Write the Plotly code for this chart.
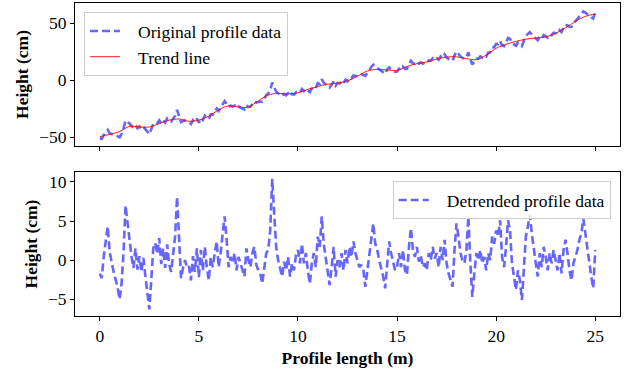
import numpy as np
import plotly.graph_objects as go

# Profile positions (m), 0.1 m step
position_m = [round(i * 0.1, 1) for i in range(251)]

# Detrended profile heights (cm)
detrended_cm = [
    -1.7, -2.3, 0.5, 2.5, 4.3, 1.0, -0.5, -1.5, -2.5, -3.5,
    -5.0, -3.0, 1.0, 7.0, 4.8, 2.5, 0.5, -1.0, 1.5, -1.2,
    0.5, -1.5, 0.3, -2.0, -4.0, -6.3, -2.5, 1.5, 2.2, 0.8,
    2.8, -0.5, 1.5, -1.0, 2.0, -0.5, -1.5, 0.5, 3.0, 8.1,
    3.0, -2.3, -1.0, 0.0, -1.0, -0.8, -2.6, 0.5, -1.5, 1.5,
    -2.2, 1.3, -1.3, 1.7, -0.9, -2.6, 0.4, -0.9, 0.9, 2.4,
    -0.9, 0.9, 3.4, 5.6, 2.6, -0.9, 0.4, -0.4, 0.9, -1.3,
    0.4, -0.4, -1.3, -2.1, 1.5, 0.0, -0.9, 0.9, 1.7, -0.6,
    -1.3, -1.7, -3.0, -0.9, 0.9, 1.3, 3.8, 10.4, 5.1, 1.7,
    0.0, -1.3, -2.1, -0.2, -1.3, 0.4, -2.1, -0.4, -1.3, 0.6,
    1.3, -0.4, 2.1, -0.4, 0.9, -1.3, -3.0, -0.4, 0.9, -0.9,
    3.0, 1.7, 5.6, 2.1, 0.4, -1.3, -3.2, -0.9, 1.7, -2.1,
    0.0, -0.9, 0.9, -1.3, 1.3, -0.4, 1.7, 0.4, 2.4, 0.9,
    0.0, -0.9, -0.6, -1.3, -3.4, -1.3, 0.9, 3.0, 4.7, 2.1,
    1.3, 0.0, -0.9, -2.1, -3.6, 0.0, 2.4, 0.9, -0.4, -1.3,
    -0.9, 0.9, -0.9, 1.3, -1.3, -1.9, 1.7, 4.1, 1.3, 0.4,
    1.7, -0.2, 0.6, -0.9, -0.4, -1.3, 0.9, 0.0, 1.7, 0.2,
    0.9, -0.9, 1.7, 0.0, 2.6, -0.4, -1.7, -2.6, -3.4, 1.3,
    4.7, 3.0, 0.9, 0.0, -0.4, 1.3, 5.6, -0.4, -4.7, -1.7,
    0.9, 0.0, 1.3, -0.4, 0.4, -1.3, 0.9, 0.0, 3.0, 2.1,
    3.8, 3.0, 5.1, 0.4, -0.9, 1.7, 5.1, 3.8, -0.4, -2.1,
    -3.8, -1.3, -2.6, -5.1, -1.3, 3.0, 4.3, 5.8, 3.4, 1.3,
    -0.4, -2.1, 0.9, -0.9, 1.7, 0.4, -1.3, 0.9, -0.4, 1.3,
    0.0, -1.3, 0.9, -1.7, 1.3, 2.6, 0.9, -1.3, -2.6, -0.4,
    0.4, 1.3, 2.6, 3.4, 5.3, 3.4, 1.3, -0.4, -2.1, -3.6,
    1.3,
]

# Trend line (cm), every 0.5 m
trend_x_m = [i * 0.5 for i in range(51)]
trend_cm = [
    -49.5, -47.5, -45.0, -40.5, -41.0, -41.0, -38.0, -35.0, -34.0, -36.0,
    -35.0, -31.5, -26.0, -22.5, -23.5, -23.5, -18.0, -13.0, -11.5, -12.0,
    -11.0, -8.0, -5.5, -3.5, -2.5, -0.5, 3.5, 8.0, 9.5, 9.0,
    8.5, 12.0, 14.5, 16.0, 18.5, 20.3, 20.5, 19.0, 18.0, 22.0,
    28.0, 31.5, 34.0, 36.0, 37.0, 38.0, 41.0, 46.0, 51.5, 56.0,
    58.0,
]

x_ticks = [0, 5, 10, 15, 20, 25]
top_ticks = [-50, 0, 50]
bottom_ticks = [-5, 0, 5, 10]

# Original profile = trend + detrended residual
original_cm = (np.array(detrended_cm) + np.interp(position_m, trend_x_m, trend_cm)).tolist()

BLUE = "rgba(102,102,255,1)"
FONT = "Liberation Serif, Times New Roman, serif"
FS = 17.5
PAD = "\u00a0\u00a0\u00a0"

fig = go.Figure()
fig.add_trace(go.Scatter(x=position_m, y=original_cm, mode="lines", name=PAD + "Original profile data",
                         line=dict(color=BLUE, width=2.6, dash="8px,4px"),
                         xaxis="x", yaxis="y", legend="legend"))
fig.add_trace(go.Scatter(x=trend_x_m, y=trend_cm, mode="lines", name=PAD + "Trend line",
                         line=dict(color="red", width=0.9, shape="spline"),
                         xaxis="x", yaxis="y", legend="legend"))
fig.add_trace(go.Scatter(x=position_m, y=detrended_cm, mode="lines", name=PAD + "Detrended profile data",
                         line=dict(color=BLUE, width=2.6, dash="8px,4px"),
                         xaxis="x2", yaxis="y2", legend="legend2"))

axis_common = dict(showline=True, linecolor="black", linewidth=1, mirror=True,
                   ticks="outside", ticklen=4, tickcolor="black", showgrid=False,
                   zeroline=False, tickfont=dict(family=FONT, size=FS, color="black"))

fig.update_layout(
    width=632, height=372,
    margin=dict(l=75, r=12, t=3, b=56),
    paper_bgcolor="white", plot_bgcolor="white",
    font=dict(family=FONT, size=FS, color="black"),
    xaxis=dict(domain=[0, 1], anchor="y", range=[-1.25, 26.25], tickvals=x_ticks,
               showticklabels=False, matches="x2", **axis_common),
    yaxis=dict(domain=[0.5431, 1], anchor="x", range=[-57.7, 67.7], tickvals=top_ticks,
               title=dict(text="<b>Height (cm)</b>", font=dict(family=FONT, size=FS), standoff=5),
               **axis_common),
    xaxis2=dict(domain=[0, 1], anchor="y2", range=[-1.25, 26.25], tickvals=x_ticks,
                title=dict(text="<b>Profile length (m)</b>", font=dict(family=FONT, size=FS), standoff=6),
                **axis_common),
    yaxis2=dict(domain=[0, 0.46], anchor="x2", range=[-7.14, 11.26], tickvals=bottom_ticks,
                title=dict(text="<b>Height (cm)</b>", font=dict(family=FONT, size=FS), standoff=5),
                **axis_common),
    legend=dict(x=0.0165, y=0.971, xanchor="left", yanchor="top",
                bgcolor="rgba(255,255,255,0.8)", bordercolor="#cccccc", borderwidth=1,
                font=dict(family=FONT, size=FS), tracegroupgap=0),
    legend2=dict(x=0.983, y=0.431, xanchor="right", yanchor="top",
                 bgcolor="rgba(255,255,255,0.8)", bordercolor="#cccccc", borderwidth=1,
                 font=dict(family=FONT, size=FS)),
)

fig.write_html("out.html")
